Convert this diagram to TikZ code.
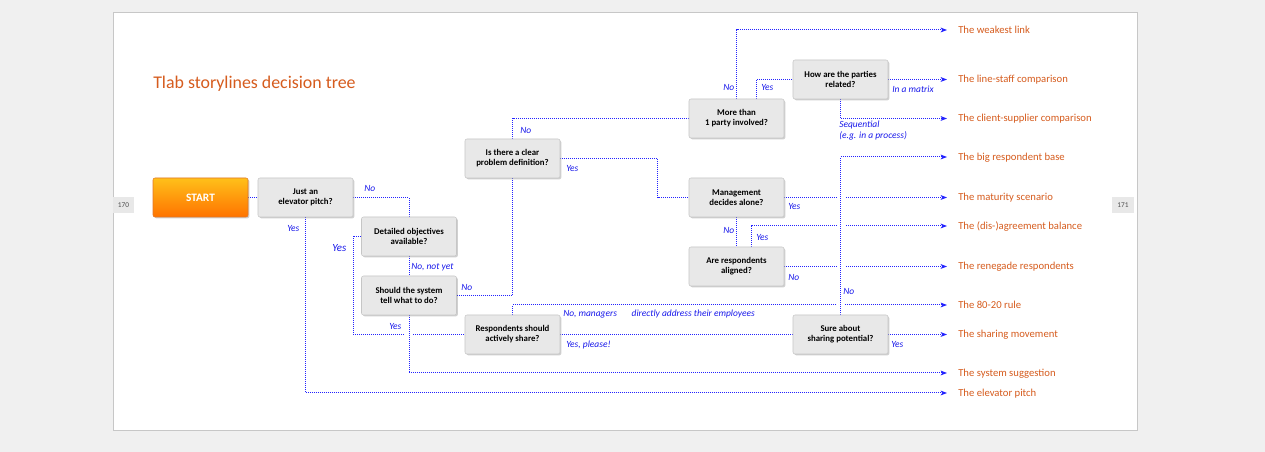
\documentclass[tikz,border=0pt]{standalone}
\usepackage{fontspec}
\setmainfont{Carlito}
\usetikzlibrary{arrows.meta,shadows}
\pgfdeclarelayer{bg}
\pgfdeclarelayer{links}
\pgfsetlayers{bg,links,main}
\definecolor{linkblue}{RGB}{35,35,255}
\definecolor{lblblue}{RGB}{25,25,235}
\definecolor{outorange}{RGB}{214,92,30}
\definecolor{boxgray}{RGB}{232,232,232}
\definecolor{boxline}{RGB}{198,198,198}
\definecolor{pagegray}{RGB}{240,240,240}
\definecolor{startline}{RGB}{226,120,40}
\tikzset{every picture/.style={line width=0.75pt}}

\begin{document}
\begin{tikzpicture}[x=0.75pt,y=0.75pt,yscale=-1,xscale=1,
  qbox/.style={draw=boxline, fill=boxgray, rounded corners=1.5pt, minimum width=71.25pt, minimum height=29.25pt, inner sep=1pt, align=center, font=\fontsize{6.6}{7.6}\selectfont\bfseries, drop shadow={shadow xshift=1pt, shadow yshift=-1pt, opacity=0.3, fill=black!60}},
  outcome/.style={anchor=west, inner sep=0pt, text height=6.2pt, text depth=1.6pt, text=outorange, font=\fontsize{8}{9}\selectfont},
  lbl/.style={anchor=west, inner sep=0pt, text=lblblue, font=\fontsize{7.1}{8}\selectfont\itshape},
  plain/.style={draw=linkblue, line width=0.75pt, dash pattern=on 0.75pt off 0.75pt},
  link/.style={plain, -{Stealth[length=4.8pt, width=3.6pt, inset=1.2pt]}, shorten >=8.25pt},
  bridge/.style={preaction={draw=white, line width=6pt, solid, -}},
  pagetab/.style={fill=boxgray, minimum width=16pt, minimum height=12pt, inner sep=0pt, text=black!70, font=\fontsize{5.5}{6}\selectfont}
]
\useasboundingbox (0,0) rectangle (1265,452);
\begin{pgfonlayer}{bg}
%Shape: Page
\fill[pagegray] (0,0) rectangle (1265,452);
\draw[draw=black!22, fill=white] (113,12) rectangle (1137,430);
\end{pgfonlayer}

%Page tabs
\node[pagetab] (p170) at (123.5,205.5) {170};
\node[pagetab] (p171) at (1123,205.5) {171};

%Title
\node[anchor=west, inner sep=0pt, text=outorange, font=\fontsize{13.4}{15}\selectfont] (title) at (153,84) {Tlab storylines decision tree};

%Shape: Start
\node[qbox, draw=startline, top color=orange!55!yellow!90!white, bottom color=orange!90!red, text=white, font=\fontsize{8.5}{9}\selectfont\bfseries] (start) at (200.5,197.5) {START};

%Shape: Questions
\node[qbox] (pitch) at (305.5,197.5) {Just an\\elevator pitch?};
\node[qbox] (detail) at (409,236.5) {Detailed objectives\\available?};
\node[qbox] (tell) at (409,295.5) {Should the system\\tell what to do?};
\node[qbox] (clear) at (512.5,158.5) {Is there a clear\\problem definition?};
\node[qbox] (party) at (736.5,118.5) {More than\\1 party involved?};
\node[qbox] (related) at (840.5,79.5) {How are the parties\\related?};
\node[qbox] (alone) at (736.5,197.5) {Management\\decides alone?};
\node[qbox] (aligned) at (736.5,266.5) {Are respondents\\aligned?};
\node[qbox] (share) at (512.5,334.5) {Respondents should\\actively share?};
\node[qbox] (sure) at (840.5,334.5) {Sure about\\sharing potential?};

%Outcomes
\node[outcome] (weak) at (958,30) {The weakest link};
\node[outcome] (linestaff) at (958,79.5) {The line-staff comparison};
\node[outcome] (client) at (958,118.5) {The client-supplier comparison};
\node[outcome] (bigbase) at (958,157) {The big respondent base};
\node[outcome] (maturity) at (958,197.5) {The maturity scenario};
\node[outcome] (disagree) at (958,226) {The (dis-)agreement balance};
\node[outcome] (renegade) at (958,266.5) {The renegade respondents};
\node[outcome] (rule) at (958,305) {The 80-20 rule};
\node[outcome] (sharing) at (958,334.5) {The sharing movement};
\node[outcome] (sugg) at (958,373) {The system suggestion};
\node[outcome] (elev) at (958,393) {The elevator pitch};

\begin{pgfonlayer}{links}
%Connectors
\draw[plain] (start.east) -- (pitch.west);
\draw[plain] (pitch.east) -| (detail.north);
\draw[link] (pitch.south) |- (elev.west);
\draw[plain] (detail.south) -- (tell.north);
\draw[plain] (detail.west) -- ++(-8,0) |- (share.west);
\draw[plain] (tell.east) -| (clear.south);
\draw[plain] (clear.north) |- (party.west);
\draw[plain] (clear.east) -- ++(97.5,0) |- (alone.west);
\draw[link] (party.north) |- (weak.west);
\draw[plain] ([xshift=15pt]party.north) |- (related.west);
\draw[link] (related.east) -- (linestaff.west);
\draw[link] (related.south) |- (client.west);
\draw[link] (alone.east) -- (maturity.west);
\draw[plain] (alone.south) -- (aligned.north);
\draw[link] ([xshift=11pt]aligned.north) |- (disagree.west);
\draw[link] (aligned.east) -- (renegade.west);
\draw[link] (share.north) |- (rule.west);
\draw[plain] (share.east) -- (sure.west);
\draw[link] (sure.east) -- (sharing.west);
%crossing lines
\draw[link, bridge] (tell.south) |- (sugg.west);
\draw[link, bridge] (sure.north) |- (bigbase.west);
\end{pgfonlayer}

%Labels
\node[lbl] (l1) at (364,188) {No};
\node[lbl] (l2) at (287,228) {Yes};
\node[lbl, font=\fontsize{8.2}{9}\selectfont\itshape] (l3) at (332,248) {Yes};
\node[lbl] (l4) at (411,267) {No, not yet};
\node[lbl] (l5) at (461,287) {No};
\node[lbl] (l6) at (389,326) {Yes};
\node[lbl] (l7) at (520,130) {No};
\node[lbl] (l8) at (566,169) {Yes};
\node[lbl] (l9) at (723,87.5) {No};
\node[lbl] (l10) at (761,87.5) {Yes};
\node[lbl] (l11) at (892,89) {In a matrix};
\node[lbl, anchor=north west, align=left] (l12) at (839,121) {Sequential\\(e.g. in a process)};
\node[lbl] (l13) at (788,207) {Yes};
\node[lbl] (l14) at (723,230) {No};
\node[lbl] (l15) at (756,237) {Yes};
\node[lbl] (l16) at (788,277) {No};
\node[lbl] (l17) at (563,314) {No, managers\hspace{11pt}directly address their employees};
\node[lbl] (l18) at (566,345) {Yes, please!};
\node[lbl] (l19) at (843,291) {No};
\node[lbl] (l20) at (891,344) {Yes};
\end{tikzpicture}
\end{document}
